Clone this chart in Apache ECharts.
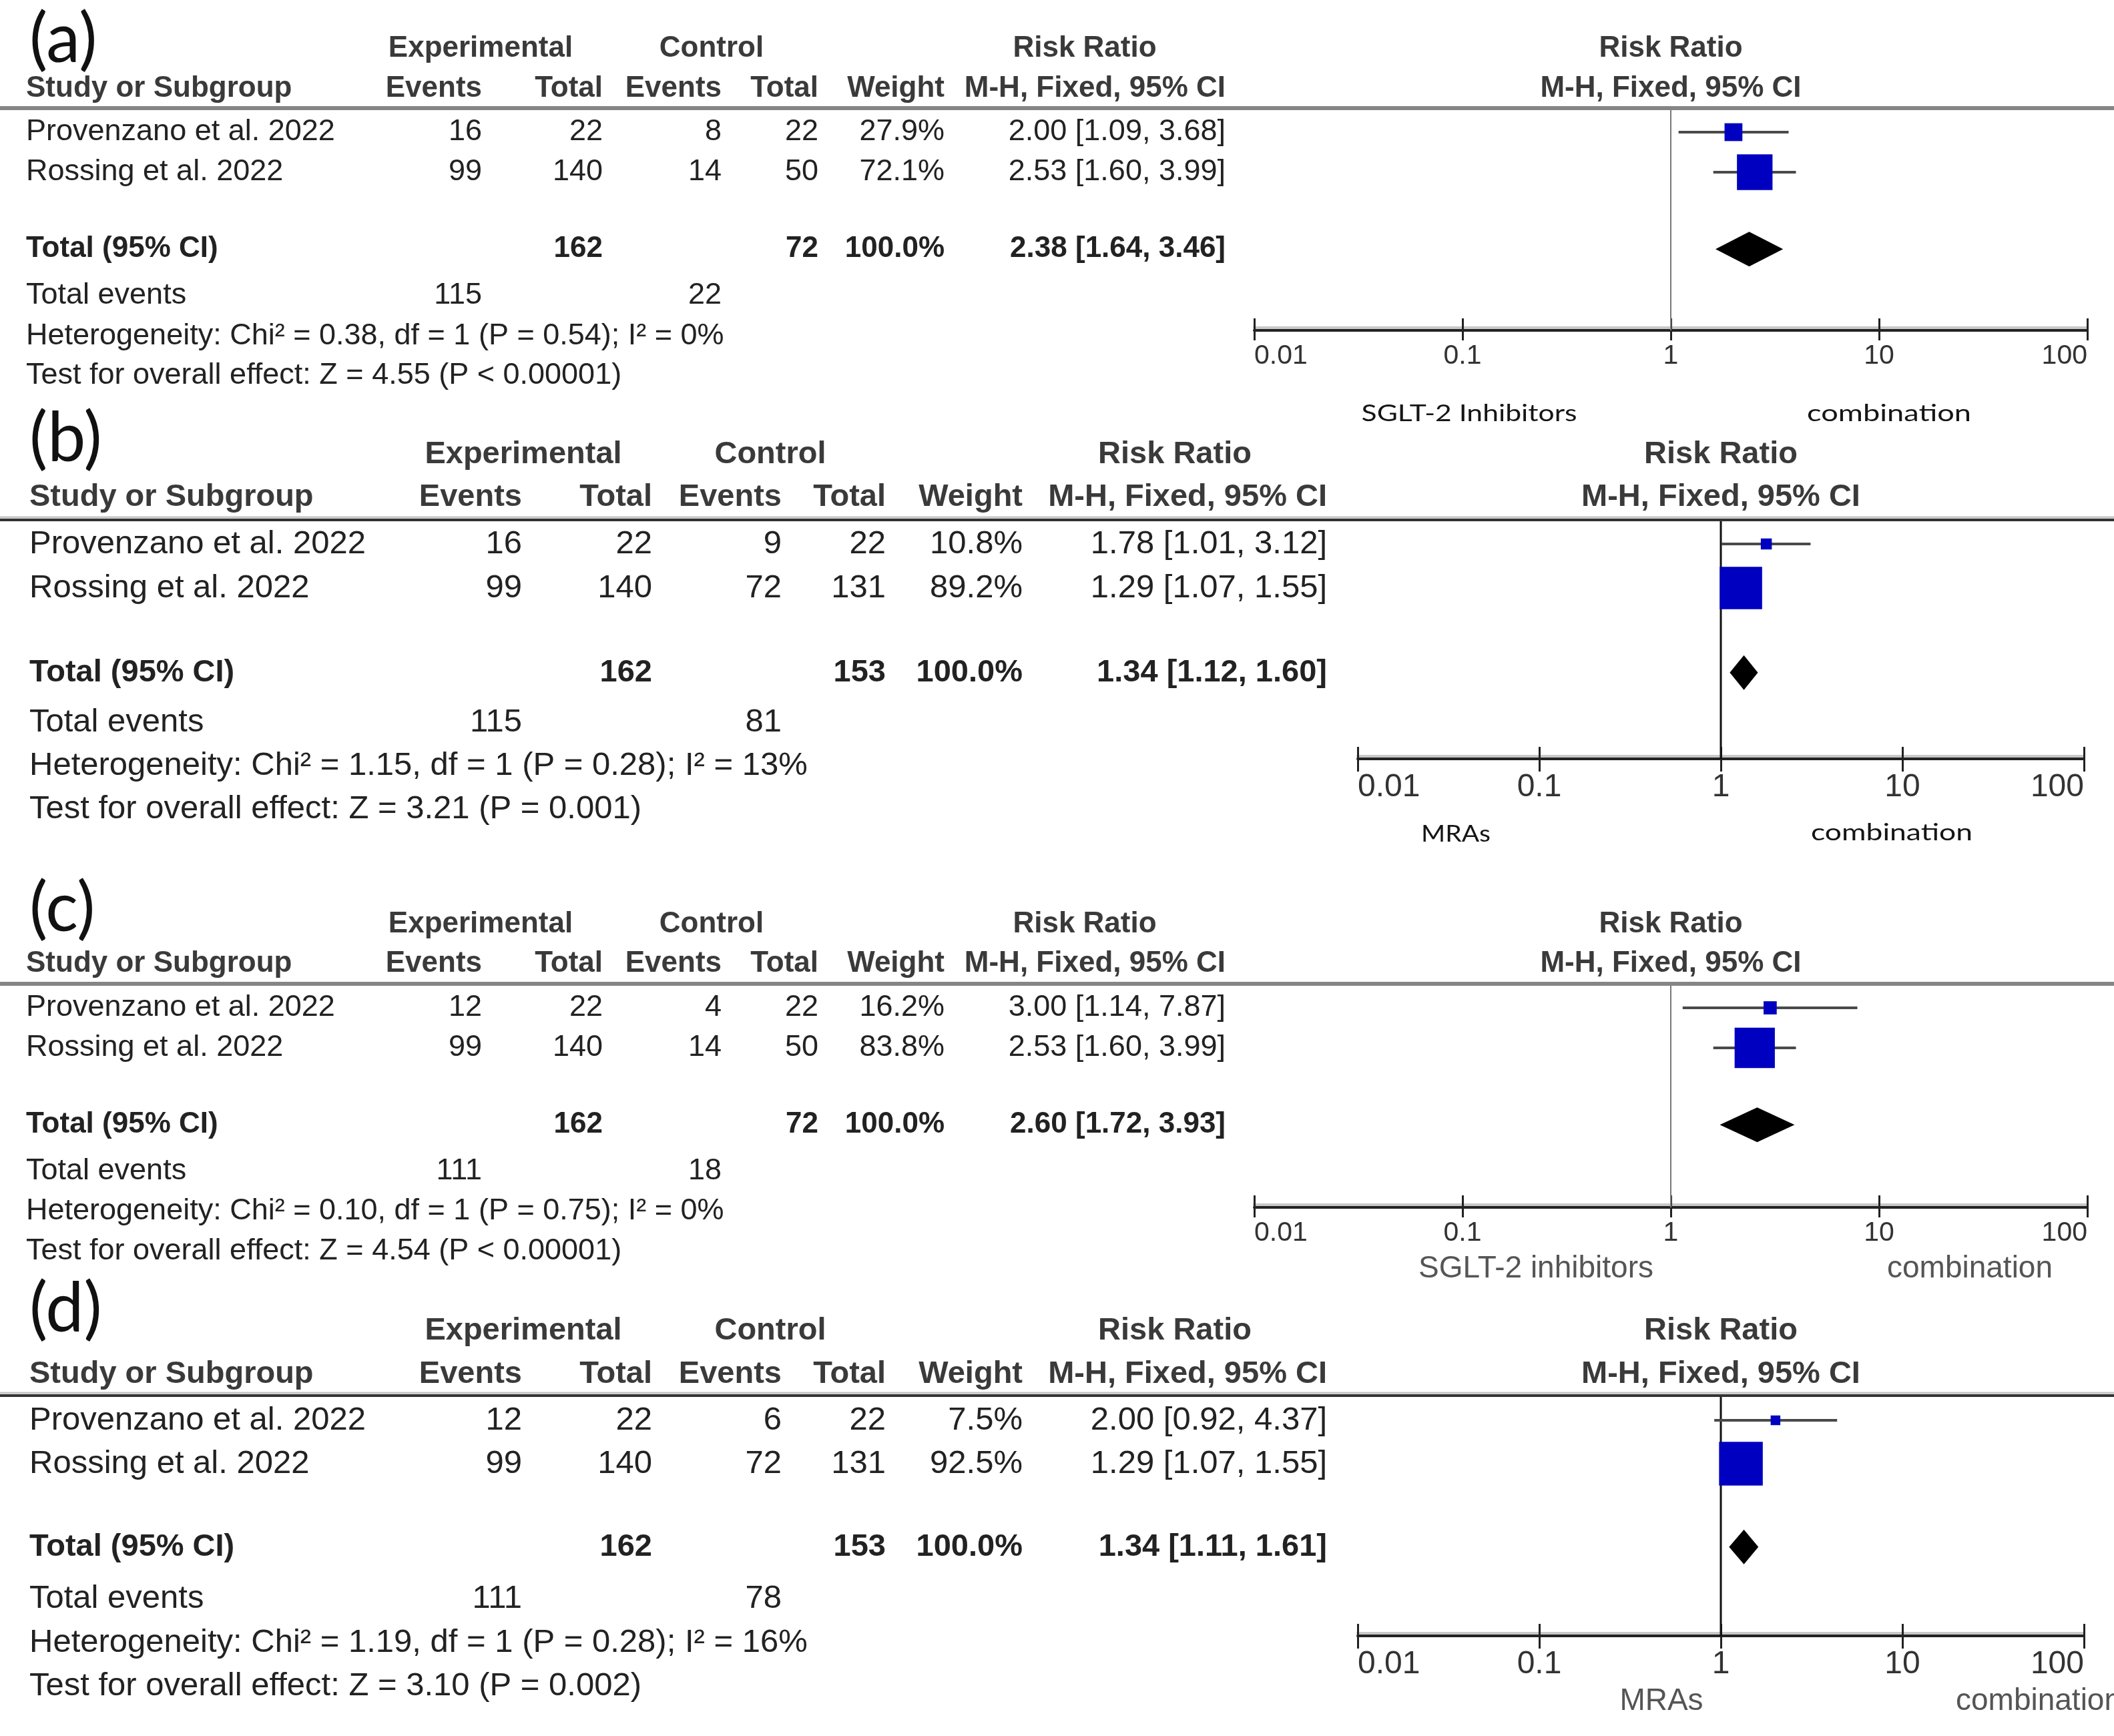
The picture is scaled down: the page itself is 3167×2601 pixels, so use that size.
<!DOCTYPE html>
<html><head><meta charset="utf-8">
<script src="https://cdn.jsdelivr.net/npm/echarts@6/dist/echarts.min.js"></script>
<style>html,body{margin:0;padding:0;background:#fff}#chart{width:3167px;height:2601px}</style>
</head><body><div id="chart"></div>
<script>
// ---------------- DATA ----------------
const PANEL_LABELS = ['(a)', '(b)', '(c)', '(d)'];
const STUDIES = ['Provenzano et al. 2022', 'Rossing et al. 2022'];
const TICK_LABELS = ['0.01', '0.1', '1', '10', '100'];

// (a)
const A_EXP_EVENTS = [16, 99];
const A_EXP_TOTAL = [22, 140];
const A_CTL_EVENTS = [8, 14];
const A_CTL_TOTAL = [22, 50];
const A_WEIGHT = [27.9, 72.1];
const A_RR = [2.00, 2.53];
const A_LO = [1.09, 1.60];
const A_HI = [3.68, 3.99];
const A_TOTAL_RR = [2.38, 1.64, 3.46];
const A_SUMS = [162, 72];
const A_EVENTS = [115, 22];
const A_HET = 'Heterogeneity: Chi² = 0.38, df = 1 (P = 0.54); I² = 0%';
const A_TEST = 'Test for overall effect: Z = 4.55 (P < 0.00001)';
const A_DIR = ['SGLT-2 Inhibitors', 'combination'];

// (b)
const B_EXP_EVENTS = [16, 99];
const B_EXP_TOTAL = [22, 140];
const B_CTL_EVENTS = [9, 72];
const B_CTL_TOTAL = [22, 131];
const B_WEIGHT = [10.8, 89.2];
const B_RR = [1.78, 1.29];
const B_LO = [1.01, 1.07];
const B_HI = [3.12, 1.55];
const B_TOTAL_RR = [1.34, 1.12, 1.60];
const B_SUMS = [162, 153];
const B_EVENTS = [115, 81];
const B_HET = 'Heterogeneity: Chi² = 1.15, df = 1 (P = 0.28); I² = 13%';
const B_TEST = 'Test for overall effect: Z = 3.21 (P = 0.001)';
const B_DIR = ['MRAs', 'combination'];

// (c)
const C_EXP_EVENTS = [12, 99];
const C_EXP_TOTAL = [22, 140];
const C_CTL_EVENTS = [4, 14];
const C_CTL_TOTAL = [22, 50];
const C_WEIGHT = [16.2, 83.8];
const C_RR = [3.00, 2.53];
const C_LO = [1.14, 1.60];
const C_HI = [7.87, 3.99];
const C_TOTAL_RR = [2.60, 1.72, 3.93];
const C_SUMS = [162, 72];
const C_EVENTS = [111, 18];
const C_HET = 'Heterogeneity: Chi² = 0.10, df = 1 (P = 0.75); I² = 0%';
const C_TEST = 'Test for overall effect: Z = 4.54 (P < 0.00001)';
const C_DIR = ['SGLT-2 inhibitors', 'combination'];

// (d)
const D_EXP_EVENTS = [12, 99];
const D_EXP_TOTAL = [22, 140];
const D_CTL_EVENTS = [6, 72];
const D_CTL_TOTAL = [22, 131];
const D_WEIGHT = [7.5, 92.5];
const D_RR = [2.00, 1.29];
const D_LO = [0.92, 1.07];
const D_HI = [4.37, 1.55];
const D_TOTAL_RR = [1.34, 1.11, 1.61];
const D_SUMS = [162, 153];
const D_EVENTS = [111, 78];
const D_HET = 'Heterogeneity: Chi² = 1.19, df = 1 (P = 0.28); I² = 16%';
const D_TEST = 'Test for overall effect: Z = 3.10 (P = 0.002)';
const D_DIR = ['MRAs', 'combination'];

// ---------------- LAYOUT ----------------
const TOTAL_IDX = 2.92;
const COLS_AC = {study: 39, expE: 722, expT: 903, ctlE: 1081, ctlT: 1226, wt: 1415, rr: 1836, expH: 720, ctlH: 1066, rrH: 1625};
const COLS_BD = {study: 44, expE: 782, expT: 977, ctlE: 1171, ctlT: 1327, wt: 1532, rr: 1988, expH: 784, ctlH: 1154, rrH: 1760};
const LAYOUT = [
  {lab: [44, 60], fs: 45, bfs: 44, hdr1: 73, hdr2: 133, line: 162, lineKind: 'gray', row1: 198, pitch: 60,
   evY: 443, hetY: 504, testY: 563, c: COLS_AC, g: {l: 1879, r: 3127, t: 162, b: 495},
   tickFs: 41, tickM: 18, tickDown: 15, vline: ['#777', 2],
   dir: [{x: 2201, y: 620, w: 323, align: 'center'}, {x: 2830, y: 620, w: 246, align: 'center'}], dirKind: 'cal'},
  {lab: [44, 658], fs: 49, bfs: 47, hdr1: 681, hdr2: 745, line: 779, lineKind: 'dark', row1: 815, pitch: 66,
   evY: 1082, hetY: 1147, testY: 1212, c: COLS_BD, g: {l: 2034, r: 3122, t: 779, b: 1137},
   tickFs: 48, tickM: 19, tickDown: 19, vline: ['#111', 3],
   dir: [{x: 2181, y: 1250, w: 104, align: 'center'}, {x: 2834, y: 1248, w: 242, align: 'center'}], dirKind: 'cal'},
  {lab: [44, 1362], fs: 45, bfs: 44, hdr1: 1385, hdr2: 1444, line: 1474, lineKind: 'gray', row1: 1510, pitch: 60,
   evY: 1755, hetY: 1815, testY: 1875, c: COLS_AC, g: {l: 1879, r: 3127, t: 1474, b: 1809},
   tickFs: 41, tickM: 18, tickDown: 15, vline: ['#777', 2],
   dir: [{x: 2301, y: 1901, align: 'center'}, {x: 2951, y: 1901, align: 'center'}], dirKind: 'arial'},
  {lab: [44, 1962], fs: 49, bfs: 47, hdr1: 1994, hdr2: 2059, line: 2091, lineKind: 'dark', row1: 2128, pitch: 65,
   evY: 2395, hetY: 2461, testY: 2526, c: COLS_BD, g: {l: 2034, r: 3122, t: 2091, b: 2451},
   tickFs: 48, tickM: 19, tickDown: 19, vline: ['#111', 3],
   dir: [{x: 2489, y: 2549, align: 'center'}, {x: 2930, y: 2549, align: 'left'}], dirKind: 'arial'}
];

const PANELS = [
  {label: PANEL_LABELS[0], expE: A_EXP_EVENTS, expT: A_EXP_TOTAL, ctlE: A_CTL_EVENTS, ctlT: A_CTL_TOTAL, wt: A_WEIGHT, rr: A_RR, lo: A_LO, hi: A_HI, tot: A_TOTAL_RR, sums: A_SUMS, events: A_EVENTS, het: A_HET, test: A_TEST, dir: A_DIR, L: LAYOUT[0]},
  {label: PANEL_LABELS[1], expE: B_EXP_EVENTS, expT: B_EXP_TOTAL, ctlE: B_CTL_EVENTS, ctlT: B_CTL_TOTAL, wt: B_WEIGHT, rr: B_RR, lo: B_LO, hi: B_HI, tot: B_TOTAL_RR, sums: B_SUMS, events: B_EVENTS, het: B_HET, test: B_TEST, dir: B_DIR, L: LAYOUT[1]},
  {label: PANEL_LABELS[2], expE: C_EXP_EVENTS, expT: C_EXP_TOTAL, ctlE: C_CTL_EVENTS, ctlT: C_CTL_TOTAL, wt: C_WEIGHT, rr: C_RR, lo: C_LO, hi: C_HI, tot: C_TOTAL_RR, sums: C_SUMS, events: C_EVENTS, het: C_HET, test: C_TEST, dir: C_DIR, L: LAYOUT[2]},
  {label: PANEL_LABELS[3], expE: D_EXP_EVENTS, expT: D_EXP_TOTAL, ctlE: D_CTL_EVENTS, ctlT: D_CTL_TOTAL, wt: D_WEIGHT, rr: D_RR, lo: D_LO, hi: D_HI, tot: D_TOTAL_RR, sums: D_SUMS, events: D_EVENTS, het: D_HET, test: D_TEST, dir: D_DIR, L: LAYOUT[3]}
];

// ---------------- HELPERS ----------------
const FONT = '"Liberation Sans", Arial, sans-serif';
const CAL = 'Lato, "Open Sans", sans-serif';
const mctx = document.createElement('canvas').getContext('2d');
function fitScale(text, size, family, w) {
  mctx.font = size + 'px ' + family;
  const m = mctx.measureText(text).width;
  return m > 0 ? w / m : 1;
}
function txt(x, y, text, o) {
  o = o || {};
  return {
    type: 'text', x: x, y: y, silent: true, scaleX: o.scaleX || 1, z: 10,
    style: {
      text: text, fontSize: o.size || 45, fontFamily: o.family || FONT, fontWeight: o.weight || 'normal',
      fill: o.fill || '#222', align: o.align || 'left', verticalAlign: 'middle'
    }
  };
}
const f2 = v => v.toFixed(2);
const ci = (e, l, h) => f2(e) + ' [' + f2(l) + ', ' + f2(h) + ']';

// ---------------- BUILD ----------------
const grids = [], xAxes = [], yAxes = [], series = [], graphics = [];

PANELS.forEach((p, g) => {
  const L = p.L, c = L.c;
  const HC = '#3a3a3a';
  // panel label
  graphics.push(txt(L.lab[0], L.lab[1], p.label, {size: 102, family: CAL, fill: '#111'}));
  // headers
  const hb = {size: L.bfs, weight: 'bold', fill: HC};
  graphics.push(txt(c.expH, L.hdr1, 'Experimental', Object.assign({align: 'center'}, hb)));
  graphics.push(txt(c.ctlH, L.hdr1, 'Control', Object.assign({align: 'center'}, hb)));
  graphics.push(txt(c.rrH, L.hdr1, 'Risk Ratio', Object.assign({align: 'center'}, hb)));
  graphics.push(txt(c.study, L.hdr2, 'Study or Subgroup', hb));
  graphics.push(txt(c.expE, L.hdr2, 'Events', Object.assign({align: 'right'}, hb)));
  graphics.push(txt(c.expT, L.hdr2, 'Total', Object.assign({align: 'right'}, hb)));
  graphics.push(txt(c.ctlE, L.hdr2, 'Events', Object.assign({align: 'right'}, hb)));
  graphics.push(txt(c.ctlT, L.hdr2, 'Total', Object.assign({align: 'right'}, hb)));
  graphics.push(txt(c.wt, L.hdr2, 'Weight', Object.assign({align: 'right'}, hb)));
  graphics.push(txt(c.rr, L.hdr2, 'M-H, Fixed, 95% CI', Object.assign({align: 'right'}, hb)));
  const midX = (L.g.l + L.g.r) / 2;
  graphics.push(txt(midX, L.hdr1, 'Risk Ratio', Object.assign({align: 'center'}, hb)));
  graphics.push(txt(midX, L.hdr2, 'M-H, Fixed, 95% CI', Object.assign({align: 'center'}, hb)));
  // header rule
  if (L.lineKind === 'gray') {
    graphics.push({type: 'line', silent: true, z: 5, shape: {x1: 0, y1: L.line, x2: 3167, y2: L.line}, style: {stroke: '#858585', lineWidth: 6}});
  } else {
    graphics.push({type: 'line', silent: true, z: 5, shape: {x1: 0, y1: L.line - 4, x2: 3167, y2: L.line - 4}, style: {stroke: '#c4c4c4', lineWidth: 3}});
    graphics.push({type: 'line', silent: true, z: 5, shape: {x1: 0, y1: L.line, x2: 3167, y2: L.line}, style: {stroke: '#333', lineWidth: 4}});
  }
  // study rows
  const nb = {size: L.fs};
  STUDIES.forEach((s, i) => {
    const y = L.row1 + i * L.pitch;
    graphics.push(txt(c.study, y, s, nb));
    graphics.push(txt(c.expE, y, String(p.expE[i]), Object.assign({align: 'right'}, nb)));
    graphics.push(txt(c.expT, y, String(p.expT[i]), Object.assign({align: 'right'}, nb)));
    graphics.push(txt(c.ctlE, y, String(p.ctlE[i]), Object.assign({align: 'right'}, nb)));
    graphics.push(txt(c.ctlT, y, String(p.ctlT[i]), Object.assign({align: 'right'}, nb)));
    graphics.push(txt(c.wt, y, p.wt[i].toFixed(1) + '%', Object.assign({align: 'right'}, nb)));
    graphics.push(txt(c.rr, y, ci(p.rr[i], p.lo[i], p.hi[i]), Object.assign({align: 'right'}, nb)));
  });
  // total row
  const ty = L.row1 + TOTAL_IDX * L.pitch;
  const tb = {size: L.bfs, weight: 'bold', fill: '#222'};
  const wsum = p.wt.reduce((a, b) => a + b, 0);
  graphics.push(txt(c.study, ty, 'Total (95% CI)', tb));
  graphics.push(txt(c.expT, ty, String(p.sums[0]), Object.assign({align: 'right'}, tb)));
  graphics.push(txt(c.ctlT, ty, String(p.sums[1]), Object.assign({align: 'right'}, tb)));
  graphics.push(txt(c.wt, ty, wsum.toFixed(1) + '%', Object.assign({align: 'right'}, tb)));
  graphics.push(txt(c.rr, ty, ci(p.tot[0], p.tot[1], p.tot[2]), Object.assign({align: 'right'}, tb)));
  // footer rows
  graphics.push(txt(c.study, L.evY, 'Total events', nb));
  graphics.push(txt(c.expE, L.evY, String(p.events[0]), Object.assign({align: 'right'}, nb)));
  graphics.push(txt(c.ctlE, L.evY, String(p.events[1]), Object.assign({align: 'right'}, nb)));
  graphics.push(txt(c.study, L.hetY, p.het, nb));
  graphics.push(txt(c.study, L.testY, p.test, nb));
  // direction labels
  p.dir.forEach((d, k) => {
    const D = L.dir[k];
    if (L.dirKind === 'cal') {
      const sz = 34;
      graphics.push(txt(D.x, D.y, d, {size: sz, family: CAL, fill: '#151515', align: D.align, scaleX: fitScale(d, sz, CAL, D.w)}));
    } else {
      graphics.push(txt(D.x, D.y, d, {size: 46, fill: '#555', align: D.align}));
    }
  });

  // forest grid
  grids.push({left: L.g.l, top: L.g.t, width: L.g.r - L.g.l, height: L.g.b - L.g.t, containLabel: false, outerBoundsMode: 'none'});
  const common = {type: 'log', logBase: 10, min: 0.01, max: 100, gridIndex: g, position: 'bottom',
    splitLine: {show: false}, minorTick: {show: false}, minorSplitLine: {show: false}};
  xAxes.push(Object.assign({}, common, {
    axisLine: {show: true, onZero: false, lineStyle: {color: '#222', width: 4, shadowColor: '#c8c8c8', shadowOffsetY: -4, shadowBlur: 0}},
    axisTick: {show: true, inside: false, length: L.tickDown, lineStyle: {color: '#222', width: 3}},
    axisLabel: {show: true, margin: L.tickM, color: '#333', fontSize: L.tickFs, fontFamily: FONT,
      showMinLabel: true, showMaxLabel: true, alignMinLabel: 'left', alignMaxLabel: 'right', hideOverlap: false,
      formatter: v => TICK_LABELS[Math.round(Math.log10(v)) + 2]}
  }));
  xAxes.push(Object.assign({}, common, {
    axisLine: {show: false, onZero: false},
    axisTick: {show: true, inside: true, length: 18, lineStyle: {color: '#222', width: 3}},
    axisLabel: {show: false}
  }));
  const yMin = (L.g.t - L.row1) / L.pitch, yMax = (L.g.b - L.row1) / L.pitch;
  yAxes.push({type: 'value', gridIndex: g, show: false, inverse: true, min: yMin, max: yMax});

  // reference line at RR = 1
  series.push({type: 'line', xAxisIndex: 2 * g, yAxisIndex: g, silent: true, symbol: 'none', z: 1,
    data: [[1, yMin], [1, yMax]], lineStyle: {color: L.vline[0], width: L.vline[1]}});
  // studies: CI line + weighted square
  series.push({type: 'custom', xAxisIndex: 2 * g, yAxisIndex: g, silent: true, z: 3,
    data: STUDIES.map((s, i) => [p.rr[i], p.lo[i], p.hi[i], i, p.wt[i]]),
    encode: {x: [0, 1, 2], y: 3},
    renderItem: (params, api) => {
      const y = api.value(3);
      const a = api.coord([api.value(1), y]);
      const b = api.coord([api.value(2), y]);
      const e = api.coord([api.value(0), y]);
      const s = 10 + 0.6 * api.value(4);
      return {type: 'group', children: [
        {type: 'line', shape: {x1: a[0], y1: a[1], x2: b[0], y2: b[1]}, style: {stroke: '#4a4a4a', lineWidth: 4}},
        {type: 'rect', shape: {x: e[0] - s / 2, y: e[1] - s / 2, width: s, height: s}, style: {fill: '#0000c0'}}
      ]};
    }});
  // pooled diamond
  series.push({type: 'custom', xAxisIndex: 2 * g, yAxisIndex: g, silent: true, z: 3,
    data: [[p.tot[0], p.tot[1], p.tot[2], TOTAL_IDX]],
    encode: {x: [0, 1, 2], y: 3},
    renderItem: (params, api) => {
      const y = api.value(3);
      const e = api.coord([api.value(0), y]);
      const a = api.coord([api.value(1), y]);
      const b = api.coord([api.value(2), y]);
      const h = 26;
      return {type: 'polygon', shape: {points: [[a[0], e[1]], [e[0], e[1] - h], [b[0], e[1]], [e[0], e[1] + h]]}, style: {fill: '#000'}};
    }});
});

const chart = echarts.init(document.getElementById('chart'), null, {renderer: 'canvas'});
chart.setOption({
  backgroundColor: '#fff',
  animation: false,
  grid: grids,
  xAxis: xAxes,
  yAxis: yAxes,
  series: series,
  graphic: {elements: graphics}
});
</script>
</body></html>
